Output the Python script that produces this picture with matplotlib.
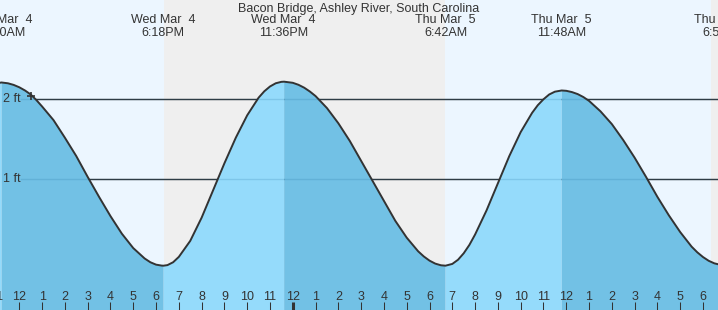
# tide chart - Bacon Bridge, Ashley River
import numpy as np
import matplotlib
matplotlib.use('Agg')
import matplotlib.pyplot as plt

plt.rcParams['font.family'] = ['Liberation Sans', 'DejaVu Sans']

title = 'Bacon Bridge, Ashley River, South Carolina'

# hours after noon Wed Mar 4, tide height in ft
times = [-1, -0.78, -0.5, -0.25, 0, 0.25, 0.5, 0.75, 1, 1.5, 2, 2.5, 3, 3.5, 4, 4.5, 5, 5.5, 5.75, 6, 6.25, 6.33,
         6.5, 6.75, 7, 7.5, 8, 8.5, 9, 9.5, 10, 10.5, 10.75, 11, 11.25, 11.5, 11.62,
         12, 12.25, 12.5, 12.75, 13, 13.5, 14, 14.5, 15, 15.5, 16, 16.5, 17, 17.5, 17.75, 18, 18.25, 18.5, 18.7,
         19, 19.25, 19.5, 19.75, 20, 20.5, 21, 21.5, 22, 22.5, 22.75, 23, 23.25, 23.5, 23.8,
         24, 24.25, 24.5, 24.75, 25, 25.5, 26, 26.5, 27, 27.5, 28, 28.5, 29, 29.5, 29.75, 30, 30.25, 30.5, 30.75, 31]
heights = [2.20, 2.21, 2.20, 2.18, 2.15, 2.11, 2.06, 1.99, 1.91, 1.74, 1.52, 1.29, 1.03, 0.78, 0.54, 0.32, 0.14, 0.01, -0.037, -0.067, -0.079, -0.08,
           -0.073, -0.037, 0.03, 0.23, 0.52, 0.86, 1.20, 1.52, 1.80, 2.02, 2.10, 2.16, 2.20, 2.218, 2.22,
           2.206, 2.181, 2.145, 2.097, 2.04, 1.89, 1.70, 1.48, 1.23, 0.98, 0.73, 0.48, 0.27, 0.10, 0.035, -0.017, -0.054, -0.075, -0.08,
           -0.058, -0.006, 0.075, 0.18, 0.31, 0.61, 0.95, 1.29, 1.59, 1.83, 1.926, 2.00, 2.06, 2.095, 2.11,
           2.106, 2.09, 2.065, 2.028, 1.98, 1.85, 1.69, 1.49, 1.27, 1.03, 0.78, 0.55, 0.34, 0.158, 0.087, 0.028, -0.019, -0.051, -0.068, -0.07]

# high/low tides: time, day label, clock label
high_times = [-0.78, 11.62, 23.8]
low_times = [6.33, 18.7, 30.93]
extreme_times = [-0.833, 6.3, 11.6, 18.7, 23.8, 30.93]
extreme_days = ['Wed Mar  4', 'Wed Mar  4', 'Wed Mar  4', 'Thu Mar  5', 'Thu Mar  5', 'Thu Mar  5']
extreme_clock = ['11:10AM', '6:18PM', '11:36PM', '6:42AM', '11:48AM', '6:56PM']

# night (sunset -> sunrise)
night_spans = [(6.33, 18.7), (30.33, 32)]

hour_ticks = list(range(-1, 32))
hour_labels = [str((12 + h - 1) % 12 + 1) for h in hour_ticks]

grid_ft = [1, 2]
now_time, now_height = 0.51, 2.045

t = np.array(times)
h = np.array(heights)

fig = plt.figure(figsize=(7.18, 3.10), dpi=100)
ax = fig.add_axes([0, 0, 1, 1])
ax.set_xlim(-0.847, 30.658)
ax.set_ylim(-0.634, 3.241)
ax.axis('off')

day_bg = '#ecf6ff'
night_bg = '#efefef'
light_fill = '#95dbfb'
dark_fill = '#72c1e5'
ink = '#333333'

ax.axvspan(-5, 40, color=day_bg, zorder=0, lw=0)
for a, b in night_spans:
    ax.axvspan(a, b, color=night_bg, zorder=0.5, lw=0)

# horizontal ft lines, behind the water
x_start = (21 - 19.3) / 22.79
for g in grid_ft:
    ax.plot([x_start, 40], [g, g], color=ink, lw=1.0, zorder=1)

falling = np.zeros(len(t), dtype=bool)
for hi, lo in zip(high_times, low_times):
    falling |= (t >= hi) & (t <= lo)
rising = ~falling
for hi, lo in zip(high_times, low_times):
    rising |= np.isclose(t, hi) | np.isclose(t, lo)

ax.fill_between(t, h, -1, where=rising, color=light_fill, lw=0, zorder=2)
ax.fill_between(t, h, -1, where=falling, color=dark_fill, lw=0, zorder=2)

# faint continuation of the ft lines through the water
for g in grid_ft:
    ax.plot([x_start, 40], [g, g], color='#1a6a9a', lw=1.0, alpha=0.18, zorder=3)

ax.plot(t, h, color=ink, lw=1.4, zorder=4, solid_joinstyle='round')
ax.plot([now_time], [now_height], marker='+', ms=6, mew=1.2, color=ink, zorder=5)

for g in grid_ft:
    ax.text(3 / 718, g, f'{g} ft', transform=ax.get_yaxis_transform(),
            ha='left', va='center', fontsize=9, color=ink, zorder=6)

# bottom hour ticks
xt = ax.get_xaxis_transform()
for hr, lab in zip(hour_ticks, hour_labels):
    lw = 2.2 if hr == 12 else 0.75
    ax.plot([hr, hr], [0, 8 / 310], color=ink, lw=lw, transform=xt,
            solid_capstyle='butt', zorder=6, clip_on=False)
    ax.text(hr, 1 - 300 / 310, lab, transform=xt, ha='center', va='baseline',
            fontsize=9, color=ink, zorder=6)

# top labels
ax.text(0.5, 1 - 12 / 310, title, transform=ax.transAxes, ha='center',
        va='baseline', fontsize=9, color=ink)
for et, d, c in zip(extreme_times, extreme_days, extreme_clock):
    ax.text(et, 1 - 23 / 310, d, transform=xt, ha='center', va='baseline',
            fontsize=9, color=ink)
    ax.text(et, 1 - 36 / 310, c, transform=xt, ha='center', va='baseline',
            fontsize=9, color=ink)

plt.savefig('out.png', dpi=100)
plt.close()
